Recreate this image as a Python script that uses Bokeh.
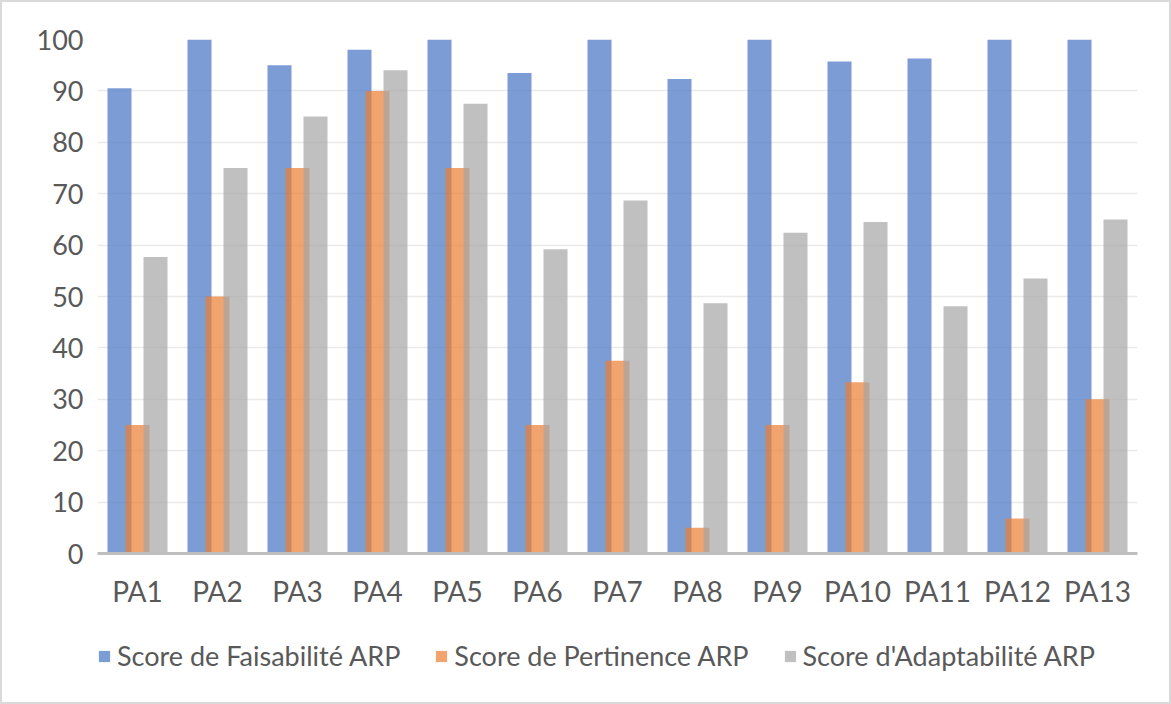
from bokeh.plotting import figure
from bokeh.layouts import column
from bokeh.models import (ColumnDataSource, FactorRange, Range1d, Legend,
                          LegendItem, FixedTicker)
from bokeh.transform import dodge
from bokeh.embed import file_html
from bokeh.resources import INLINE

# Scores per action plan
categories = ["PA1", "PA2", "PA3", "PA4", "PA5", "PA6", "PA7",
              "PA8", "PA9", "PA10", "PA11", "PA12", "PA13"]
faisabilite = [90.5, 100, 95, 98, 100, 93.5, 100, 92.3, 100, 95.7, 96.3, 100, 100]
pertinence = [25, 50, 75, 90, 75, 25, 37.5, 5, 25, 33.3, 0, 6.8, 30]
adaptabilite = [57.7, 75, 85, 94, 87.5, 59.2, 68.7, 48.7, 62.4, 64.5, 48.1, 53.5, 65]
y_ticks = [0, 10, 20, 30, 40, 50, 60, 70, 80, 90, 100]

series_names = ["Score de Faisabilité ARP", "Score de Pertinence ARP",
                "Score d'Adaptabilité ARP"]
colors = ["#4472C4", "#ED7D31", "#A5A5A5"]
columns = ["f", "p", "a"]
offsets = [-0.225, 0.0, 0.225]

FONT = "Lato"
TEXT_COLOR = "#595959"
W = 1167

src = ColumnDataSource(dict(cat=categories, f=faisabilite,
                            p=pertinence, a=adaptabilite))

# Main chart: grouped bars
p = figure(x_range=FactorRange(*categories), y_range=Range1d(0, 100),
           width=W, height=623, output_backend="svg",
           toolbar_location=None,
           min_border_left=95, min_border_right=32,
           min_border_top=37, min_border_bottom=72)
p.outline_line_color = None
p.background_fill_color = "white"
p.border_fill_color = "white"

for col, off, color in zip(columns, offsets, colors):
    p.vbar(x=dodge("cat", off, range=p.x_range), top=col, width=0.30,
           source=src, fill_color=color, fill_alpha=0.7, line_color=None)

p.yaxis.ticker = FixedTicker(ticks=y_ticks)
p.yaxis.axis_line_color = None
p.yaxis.major_tick_line_color = None
p.yaxis.minor_tick_line_color = None
p.yaxis.major_label_text_font = FONT
p.yaxis.major_label_text_font_size = "27px"
p.yaxis.major_label_text_color = TEXT_COLOR
p.yaxis.major_label_standoff = 8

p.xaxis.axis_line_color = "#BFBFBF"
p.xaxis.axis_line_width = 3
p.xaxis.major_tick_line_color = None
p.xaxis.minor_tick_line_color = None
p.xaxis.major_label_text_font = FONT
p.xaxis.major_label_text_font_size = "28px"
p.xaxis.major_label_text_color = TEXT_COLOR
p.xaxis.major_label_standoff = 14

p.xgrid.grid_line_color = None
p.ygrid.grid_line_color = "#EAEAEA"
p.ygrid.grid_line_width = 1.5

# Legend strip under the chart
leg = figure(width=W, height=77, output_backend="svg", toolbar_location=None,
             x_range=Range1d(0, 1), y_range=Range1d(0, 1),
             min_border_left=90, min_border_top=14, min_border_right=0,
             min_border_bottom=0, outline_line_color=None)
leg.axis.visible = False
leg.grid.visible = False
leg.border_fill_color = "white"

# zero-height bars: they only lend their colours to the legend swatches
swatches = [leg.vbar(x=[0.5], top=[0], bottom=[0], width=0.1, fill_color=c,
                     fill_alpha=0.7, line_color=None) for c in colors]

legend = Legend(items=[LegendItem(label=n, renderers=[r])
                       for n, r in zip(series_names, swatches)],
                orientation="horizontal", location="top_left",
                label_text_font=FONT, label_text_font_size="27px",
                label_text_color=TEXT_COLOR,
                glyph_width=14, glyph_height=14, label_standoff=6,
                spacing=34, border_line_color=None,
                background_fill_alpha=0, margin=0, padding=5)
leg.add_layout(legend, "center")

layout = column(p, leg, spacing=0,
                styles={"border": "2px solid #D9D9D9",
                        "box-sizing": "border-box"})

open("out.html", "w").write(file_html(layout, INLINE))
